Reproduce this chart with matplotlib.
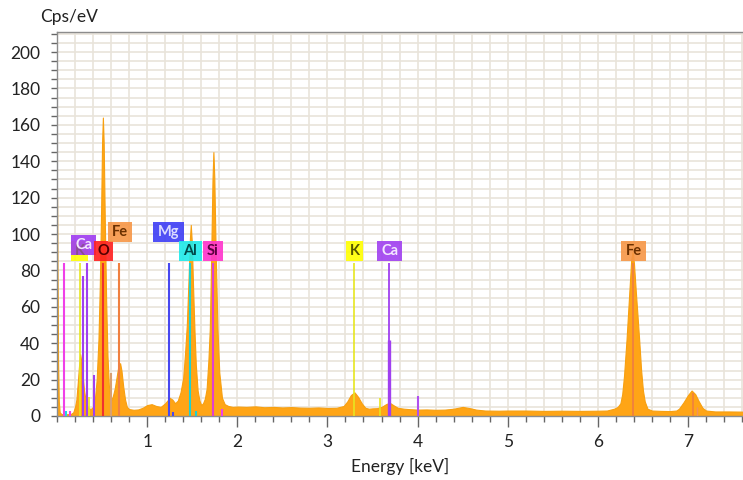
import matplotlib
matplotlib.use("Agg")
import matplotlib.pyplot as plt
from matplotlib.patches import Rectangle
from matplotlib.ticker import MultipleLocator

plt.rcParams['font.family'] = ['Lato', 'DejaVu Sans']

# ---- spectrum (energy in keV, counts in cps/eV) ----
energy = [0.000, 0.005, 0.012, 0.020, 0.030, 0.050, 0.100, 0.150, 0.180, 0.200,
          0.215, 0.230, 0.245, 0.257, 0.270, 0.285, 0.300, 0.320, 0.340, 0.360,
          0.380, 0.400, 0.420, 0.440, 0.460, 0.475, 0.490, 0.500, 0.509, 0.518,
          0.530, 0.545, 0.560, 0.575, 0.590, 0.605, 0.620, 0.640, 0.660, 0.680,
          0.700, 0.715, 0.735, 0.755, 0.775, 0.800, 0.850, 0.900, 0.950, 1.000,
          1.050, 1.100, 1.150, 1.200, 1.250, 1.280, 1.310, 1.340, 1.370, 1.400,
          1.420, 1.440, 1.460, 1.475, 1.484, 1.495, 1.510, 1.525, 1.540, 1.560,
          1.580, 1.600, 1.620, 1.640, 1.660, 1.680, 1.695, 1.710, 1.725, 1.735,
          1.745, 1.760, 1.780, 1.800, 1.830, 1.860, 1.900, 1.950, 2.000, 2.100,
          2.200, 2.300, 2.400, 2.500, 2.600, 2.700, 2.800, 2.900, 3.000, 3.100,
          3.180, 3.220, 3.260, 3.300, 3.340, 3.380, 3.420, 3.460, 3.500, 3.550,
          3.600, 3.650, 3.690, 3.730, 3.780, 3.850, 3.900, 4.000, 4.100, 4.200,
          4.300, 4.400, 4.500, 4.580, 4.650, 4.750, 4.900, 5.000, 5.200, 5.400,
          5.600, 5.800, 6.000, 6.100, 6.180, 6.220, 6.250, 6.270, 6.290, 6.318,
          6.350, 6.370, 6.385, 6.400, 6.420, 6.440, 6.458, 6.480, 6.500, 6.520,
          6.550, 6.600, 6.700, 6.800, 6.870, 6.900, 6.950, 7.000, 7.040, 7.080,
          7.120, 7.160, 7.200, 7.300, 7.450, 7.610]
counts = [120, 80, 30, 8, 2, 1, 1, 1, 2, 5,
          9, 18, 28, 34, 30, 22, 14, 8, 5, 4,
          4, 5, 9, 20, 42, 72, 115, 150, 164, 150,
          108, 64, 33, 17, 11, 9, 11, 15, 21, 27,
          29, 25, 16, 9, 5, 3.8, 3.4, 3.6, 4.5, 6,
          6.5, 5.5, 5, 7, 10, 9, 7, 8.5, 13, 21,
          34, 50, 76, 98, 105, 96, 70, 47, 28, 14,
          8.5, 6, 7, 9.5, 15, 31, 48, 86, 130, 145,
          131, 90, 48, 24, 10, 6.5, 5.5, 5, 5.2, 5,
          5.3, 4.8, 5, 4.7, 4.9, 4.6, 4.5, 4.7, 4.4, 4.5,
          5.5, 8, 11.5, 13, 10.5, 7, 4.5, 4, 4.2, 4.3,
          5, 6.5, 7.3, 6, 4.5, 4, 3.8, 3.5, 3.6, 3.4,
          3.5, 4, 5, 4.3, 3.5, 3, 2.9, 3, 3, 2.8,
          2.9, 2.8, 2.9, 3, 4, 5, 7, 12, 22, 42,
          69, 86, 90, 84, 69, 55, 42, 25, 14, 8,
          4, 3, 2.8, 2.7, 3, 4, 7.5, 11.5, 14, 12,
          8, 4.5, 3, 2.5, 2.5, 2.4]

# ---- element marker lines ----
line_x = [0.08, 0.10, 0.139, 0.25, 0.287, 0.331, 0.357, 0.405, 0.509, 0.60, 0.693,
          1.24, 1.29, 1.477, 1.547, 1.73, 1.83, 3.30, 3.58, 3.686, 3.68, 4.00,
          6.39, 7.05, 7.10]
line_h = [84, 2.5, 2.5, 84, 77, 84, 10.5, 22.5, 84, 23.6, 84,
          84, 2.4, 84, 3, 84, 3.8, 84, 10, 84, 42, 11,
          84, 12.5, 5]
line_c = ['#F040E8', '#20D8E0', '#F040E8', '#E6E620', '#A040F0', '#A040F0', '#E6E620',
          '#A040F0', '#F03030', '#D9A070', '#F08040',
          '#4848F0', '#4848F0', '#20D0D0', '#20D0D0', '#E040D0', '#F040E8',
          '#E6E620', '#E6E620', '#A040F0', '#A040F0', '#B050F0',
          '#F08040', '#F08040', '#F09060']
line_w = [1.5, 1.5, 1.5, 1.2, 1.5, 1.5, 1.2, 1.5, 1.5, 1.5, 1.5,
          1.5, 1.5, 1.5, 1.5, 1.5, 1.5, 1.2, 1.2, 1.3, 2.4, 1.5,
          1.3, 1.2, 1.0]

# ---- element label boxes ----
label_text = ['K', 'Ca', 'O', 'Fe', 'Mg', 'Al', 'Si', 'K', 'Ca', 'Fe']
label_x = [0.251, 0.296, 0.518, 0.70, 1.24, 1.48, 1.73, 3.30, 3.69, 6.40]
label_y = [85, 88.5, 85, 95.6, 95.6, 85, 85, 85, 85, 85]
label_wpx = [17, 25, 19, 24, 31, 23, 20, 17, 25, 25]
label_bg = ['#FFFF00', '#A040F0', '#FF2020', '#F79646', '#3D3DF5', '#1EEAEA',
            '#FF33CC', '#FFFF00', '#A040F0', '#F79646']
label_fg = ['#555500', '#F4E8FF', '#500000', '#6B3000', '#DCDCFF', '#004848',
            '#5A0040', '#555500', '#F4E8FF', '#6B3000']
label_alpha = [0.88, 0.93, 0.9, 0.9, 0.9, 0.9, 0.9, 0.9, 0.9, 0.9]

fig = plt.figure(figsize=(7.43, 4.80), dpi=100)
ax = fig.add_axes([57/743, 1-416/480, 1-57/743, (416-32)/480])

xmax = 7.61
ymax = 211
ax.set_xlim(0, xmax)
ax.set_ylim(0, ymax)

ax.xaxis.set_major_locator(MultipleLocator(1))
ax.xaxis.set_minor_locator(MultipleLocator(0.2))
ax.yaxis.set_major_locator(MultipleLocator(20))
ax.yaxis.set_minor_locator(MultipleLocator(5))
ax.grid(which='both', color='#E9E4DA', linewidth=1.2)
ax.set_axisbelow(True)

ax.fill_between(energy, counts, 0, color='#FFA516', linewidth=0.8,
                edgecolor='#F7A010', zorder=2)

ax.vlines(line_x, 0, line_h, colors=line_c, linewidths=line_w, zorder=3)

px_per_kev = (743-57)/xmax
px_per_unit = 384/ymax
box_h = 20/px_per_unit
for t, x, y, wpx, bg, fg, a in zip(label_text, label_x, label_y, label_wpx,
                                   label_bg, label_fg, label_alpha):
    w = wpx/px_per_kev
    ax.add_patch(Rectangle((x - w/2, y), w, box_h, facecolor=bg, edgecolor='none',
                           alpha=a, zorder=4))
    ax.text(x, y + box_h/2, t, ha='center', va='center', fontsize=10.5,
            fontweight='bold', color=fg, alpha=(0.35 if bg == '#FFFF00' and x < 1 else 1),
            zorder=5)

xt = [1, 2, 3, 4, 5, 6, 7]
ax.set_xticks(xt)
ax.set_xticklabels([str(v) for v in xt])
ax.set_yticks(range(0, 201, 20))

for s in ['left', 'bottom', 'top']:
    ax.spines[s].set_color('#8C8C8C')
    ax.spines[s].set_linewidth(1.0)
ax.spines['right'].set_visible(False)

ax.tick_params(axis='x', which='major', length=8, width=1, color='#666666',
               labelsize=12.5, pad=5, labelcolor='#222222')
ax.tick_params(axis='x', which='minor', length=4, width=1, color='#666666')
ax.tick_params(axis='y', which='major', length=4, width=1, color='#666666',
               labelsize=12.5, pad=8, labelcolor='#222222')
ax.tick_params(axis='y', which='minor', length=4, width=1, color='#666666')

ax.set_xlabel('Energy [keV]', fontsize=12.5, color='#222222', labelpad=6)
fig.text(40/743, 1-17/480, 'Cps/eV', fontsize=12.5, color='#222222',
         ha='left', va='center')

fig.savefig('out.png', dpi=100)
